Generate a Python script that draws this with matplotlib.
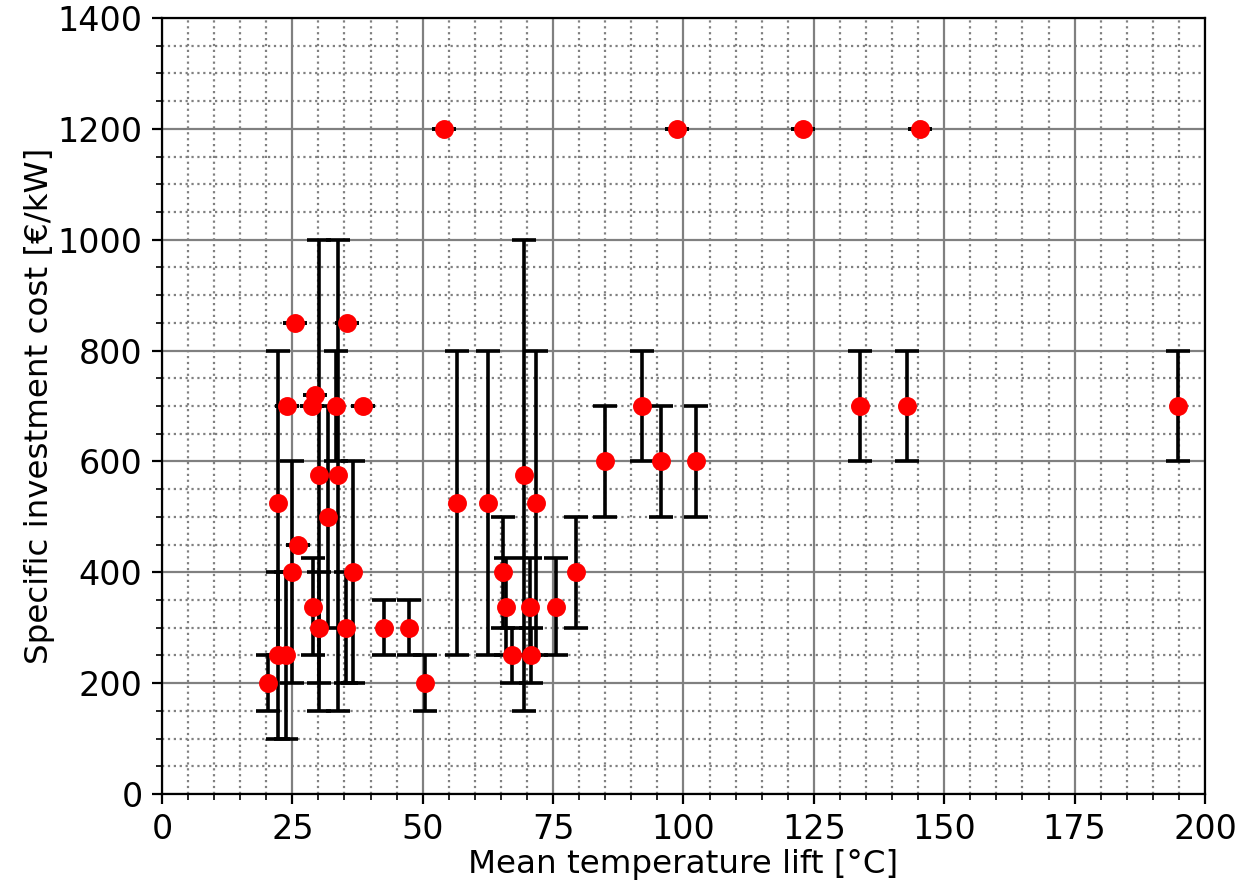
import matplotlib
matplotlib.use("Agg")
import matplotlib.pyplot as plt
from matplotlib.ticker import MultipleLocator

# mean temperature lift [°C]
temp_lift = [
    20.4, 22.2, 22.2, 23.8, 23.9, 25.0, 25.6, 26.1, 28.8, 29.0,
    29.3, 30.1, 30.1, 31.9, 33.3, 33.8, 35.3, 35.5, 36.7, 38.6,
    42.5, 47.4, 50.4, 54.0, 56.6, 62.6, 65.4, 66.0, 67.1, 69.4,
    70.6, 70.8, 71.8, 75.6, 79.3, 85.0, 92.1, 95.7, 98.8, 102.4,
    123.0, 133.9, 142.9, 145.4, 194.9,
]
# specific investment cost [EUR/kW]
cost = [
    200, 525, 250, 250, 700, 400, 850, 450, 700, 337.5,
    720, 575, 300, 500, 700, 575, 300, 850, 400, 700,
    300, 300, 200, 1200, 525, 525, 400, 337.5, 250, 575,
    337.5, 250, 525, 337.5, 400, 600, 700, 600, 1200, 600,
    1200, 700, 700, 1200, 700,
]
# symmetric cost uncertainty
cost_err = [
    50, 275, 150, 150, 0, 200, 0, 0, 0, 87.5,
    0, 425, 100, 200, 100, 425, 100, 0, 200, 0,
    50, 50, 50, 0, 275, 275, 100, 87.5, 50, 425,
    87.5, 50, 275, 87.5, 100, 100, 100, 100, 0, 100,
    0, 100, 100, 0, 100,
]

plt.rcParams["font.size"] = 12

fig = plt.figure(figsize=(6.21, 4.415), dpi=200)
ax = fig.add_axes([0.1304, 0.1008, 0.8398, 0.8788])

ax.errorbar(temp_lift, cost, yerr=cost_err, fmt="o", color="red",
            markersize=5.8, ecolor="black", elinewidth=1.3,
            capsize=4.2, capthick=1.3, zorder=3)

ax.set_xlim(0, 200)
ax.set_ylim(0, 1400)
ax.xaxis.set_major_locator(MultipleLocator(25))
ax.xaxis.set_minor_locator(MultipleLocator(5))
ax.yaxis.set_major_locator(MultipleLocator(200))
ax.yaxis.set_minor_locator(MultipleLocator(50))

ax.grid(which="major", color="gray", linestyle="-", linewidth=0.8)
ax.grid(which="minor", color="gray", linestyle=":", linewidth=0.8)
ax.set_axisbelow(True)

ax.set_xlabel("Mean temperature lift [°C]", fontsize=11.7, labelpad=1)
ax.set_ylabel("Specific investment cost [€/kW]", fontsize=11.7, labelpad=1)

fig.savefig("out.png", dpi=200)
